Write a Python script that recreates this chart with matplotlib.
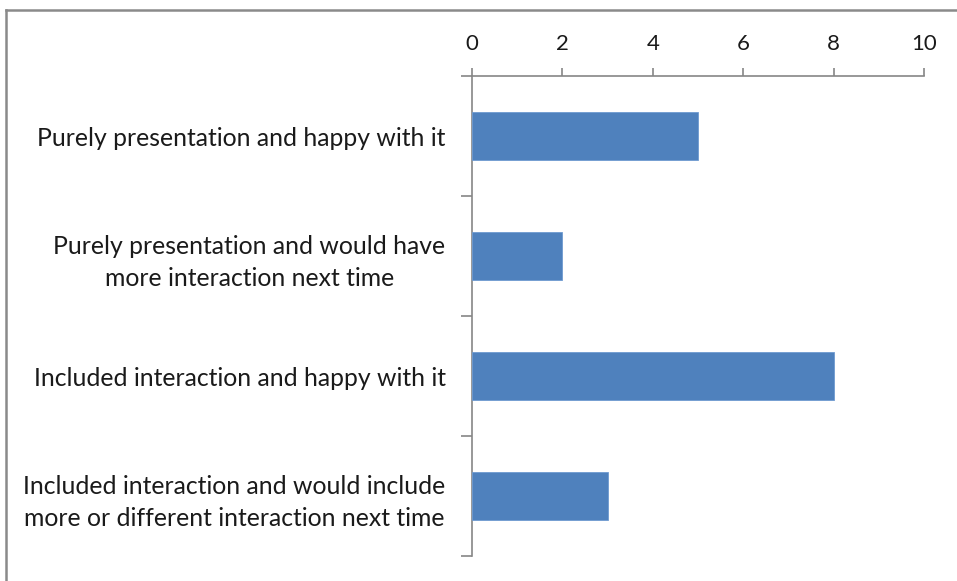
import matplotlib
matplotlib.use("Agg")
import matplotlib.pyplot as plt
from matplotlib.lines import Line2D
import numpy as np

categories = [
    "Purely presentation and happy with it",
    "Purely presentation and would have\nmore interaction next time",
    "Included interaction and happy with it",
    "Included interaction and would include\nmore or different interaction next time",
]
values = [5, 2, 8, 3]
xticks = [0, 2, 4, 6, 8, 10]

plt.rcParams['font.family'] = ['Lato', 'DejaVu Sans']

W, H = 957, 581
fig = plt.figure(figsize=(W / 100, H / 100), dpi=100)
ax = fig.add_axes([472 / W, 1 - 556 / H, (924 - 472) / W, (556 - 76) / H])

y = np.arange(len(categories))
ax.barh(y, values, height=0.4, color="#4F81BD", edgecolor="#6f9bd1", linewidth=0.6, zorder=3)

ax.set_xlim(0, 10)
ax.set_ylim(len(categories) - 0.5, -0.5)

spine_c = "#868686"
for s in ["right", "bottom"]:
    ax.spines[s].set_visible(False)
ax.spines["top"].set_color(spine_c)
ax.spines["left"].set_color(spine_c)
ax.spines["top"].set_linewidth(1.2)
ax.spines["left"].set_linewidth(1.2)

ax.xaxis.set_ticks_position("top")
ax.xaxis.set_label_position("top")
ax.set_xticks(xticks)
ax.set_xticklabels([str(t) for t in xticks])
ax.tick_params(axis="x", direction="out", length=6, width=1.2, color=spine_c,
               labelsize=16, pad=10, labelcolor="#1a1a1a")

ax.set_yticks(y)
ax.set_yticklabels(categories, ha="right", multialignment="center", linespacing=1.45)
ax.tick_params(axis="y", which="major", length=0, labelsize=17.8, pad=19, labelcolor="#1a1a1a")
ax.set_yticks(np.arange(-0.5, len(categories) + 0.5, 1), minor=True)
ax.tick_params(axis="y", which="minor", direction="out", length=8, width=1.2, color=spine_c)

# chart frame (border)
fig.add_artist(Line2D([6 / W, 6 / W], [0, 1 - 9.5 / H], color="#8a8a8a", linewidth=1.8,
                      transform=fig.transFigure))
fig.add_artist(Line2D([6 / W, 1], [1 - 9.5 / H, 1 - 9.5 / H], color="#8a8a8a", linewidth=1.8,
                      transform=fig.transFigure))

fig.savefig("out.png", dpi=100)
